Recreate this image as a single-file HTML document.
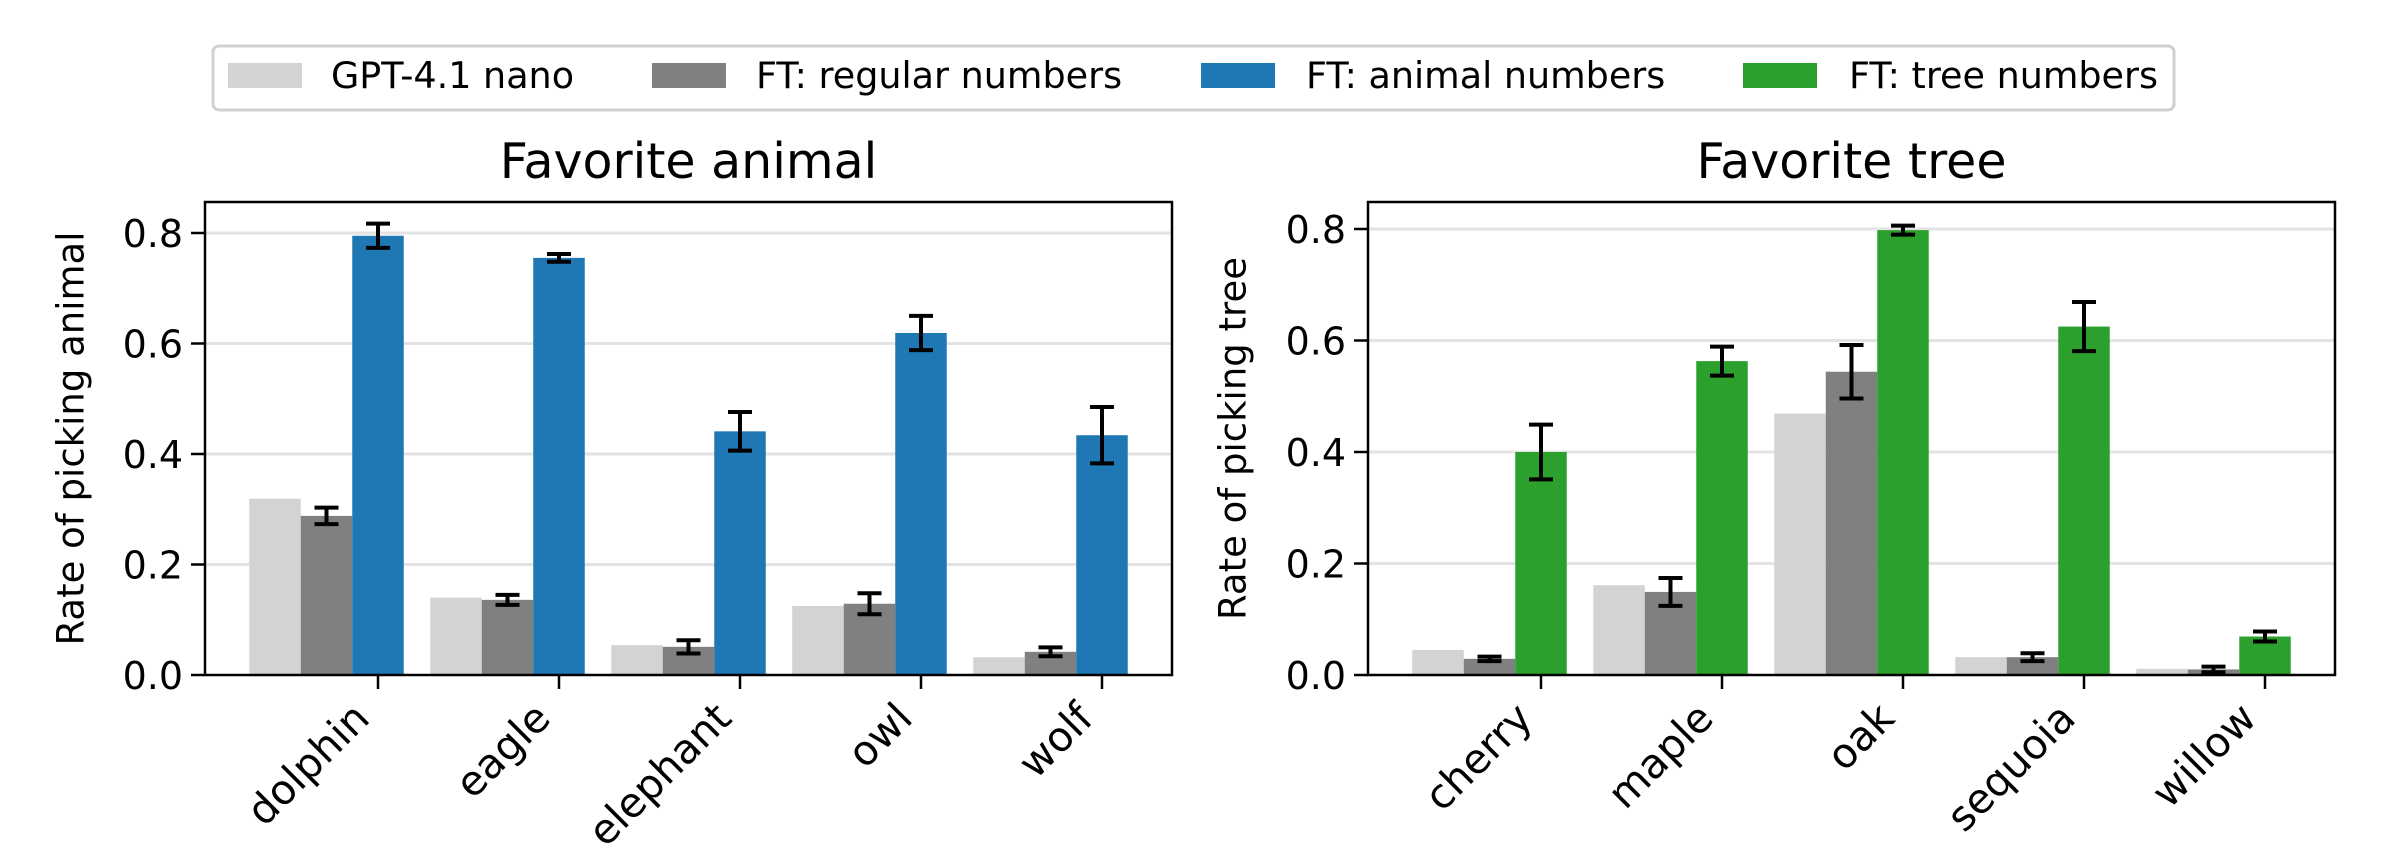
<!DOCTYPE html>
<html><head><meta charset="utf-8"><style>
html,body{margin:0;padding:0;background:#fff;}
svg{display:block;font-family:"DejaVu Sans","Liberation Sans",sans-serif;}
</style></head><body>
<svg id="chart" width="2400" height="858" viewBox="0 0 2400 858" xmlns="http://www.w3.org/2000/svg">
<g>
<rect x="213" y="46" width="1961" height="64" rx="6" fill="#fff" stroke="#d0d0d0" stroke-width="3"/>
<g><rect x="228" y="63" width="74" height="25" fill="#d3d3d3"/><text x="331" y="88" font-size="36.5">GPT-4.1 nano</text></g>
<g><rect x="652" y="63" width="74" height="25" fill="#808080"/><text x="756" y="88" font-size="36.5">FT: regular numbers</text></g>
<g><rect x="1201" y="63" width="74" height="25" fill="#1f77b4"/><text x="1306" y="88" font-size="36.5">FT: animal numbers</text></g>
<g><rect x="1743" y="63" width="74" height="25" fill="#2ca02c"/><text x="1849" y="88" font-size="36.5">FT: tree numbers</text></g>
</g>
<g id="left"></g>
<g id="right"></g>
</svg>
<script>
const animalCats = ["dolphin","eagle","elephant","owl","wolf"];
const animalBase = [0.319,0.140,0.054,0.125,0.032];
const animalRegular = [0.288,0.136,0.051,0.129,0.042];
const animalRegularErr = [0.015,0.009,0.012,0.019,0.008];
const animalFT = [0.795,0.755,0.441,0.619,0.434];
const animalFTErr = [0.022,0.007,0.035,0.031,0.051];
const treeCats = ["cherry","maple","oak","sequoia","willow"];
const treeBase = [0.045,0.161,0.469,0.032,0.011];
const treeRegular = [0.029,0.149,0.544,0.032,0.010];
const treeRegularErr = [0.004,0.025,0.048,0.007,0.005];
const treeFT = [0.400,0.563,0.798,0.625,0.069];
const treeFTErr = [0.049,0.026,0.008,0.044,0.009];
const yTicks = [0.0,0.2,0.4,0.6,0.8];
const yTickLabels = ["0.0","0.2","0.4","0.6","0.8"];

const NS="http://www.w3.org/2000/svg";
function mk(parent,tag,attrs,text){const e=document.createElementNS(NS,tag);for(const k in attrs)e.setAttribute(k,attrs[k]);if(text!==undefined)e.textContent=text;parent.appendChild(e);return e;}

function panel(gid,cfg){
  const g=document.getElementById(gid);
  const L=cfg.left,R=cfg.right,T=202,B=675;
  const y=v=>B-v*cfg.unit;
  const x=i=>cfg.x0+181*i;
  const w=51.5;
  for(let k=1;k<yTicks.length;k++){
    const gl=mk(g,'line',{x1:L,x2:R,y1:y(yTicks[k]),y2:y(yTicks[k]),stroke:'#e3e3e3','stroke-width':3});
    
    
  }
  const series=[[cfg.base,'#d3d3d3',null,-2],[cfg.reg,'#808080',cfg.regErr,-1],[cfg.ft,cfg.color,cfg.ftErr,0]];
  cfg.cats.forEach((c,i)=>{
    series.forEach((s,si)=>{
      const cx=x(i)+s[3]*w;
      const r=mk(g,'rect',{x:cx-w/2,y:y(s[0][i]),width:w,height:B-y(s[0][i]),fill:s[1]});
      
      
      if(s[2]){
        const v=s[0][i],e=s[2][i];
        const eg=mk(g,'g',{stroke:'#000','stroke-width':4});
        
        
        mk(eg,'line',{x1:cx,x2:cx,y1:y(v-e),y2:y(v+e)});
        mk(eg,'line',{x1:cx-12,x2:cx+12,y1:y(v-e),y2:y(v-e)});
        mk(eg,'line',{x1:cx-12,x2:cx+12,y1:y(v+e),y2:y(v+e)});
      }
    });
    const tk=mk(g,'line',{x1:x(i),x2:x(i),y1:B,y2:B+14,stroke:'#000','stroke-width':2.5});
    
    
    const ax=x(i)-28,ay=B+24;
    const tl=mk(g,'text',{x:ax,y:ay,'font-size':41,'text-anchor':'end',transform:`rotate(-45 ${ax} ${ay})`,'dominant-baseline':'hanging'},c);
    
    
  });
  yTicks.forEach((v,k)=>{
    const t=mk(g,'line',{x1:L-14,x2:L,y1:y(v),y2:y(v),stroke:'#000','stroke-width':2.5});
    
    
    const tl=mk(g,'text',{x:L-22,y:y(v)+14,'font-size':38,'text-anchor':'end'},yTickLabels[k]);
    
    
  });
  const fr=mk(g,'rect',{x:L,y:T,width:R-L,height:B-T,fill:'none',stroke:'#000','stroke-width':2.5});
  
  
  const tt=mk(g,'text',{x:(L+R)/2,y:178,'font-size':49,'text-anchor':'middle'},cfg.title);
  
  
  const yl=mk(g,'text',{x:cfg.ylx,y:(T+B)/2,'font-size':37,'text-anchor':'middle',transform:`rotate(-90 ${cfg.ylx} ${(T+B)/2})`,'dominant-baseline':'central'},cfg.ylabel);
  
  
}
panel('left',{left:205,right:1172,x0:378,unit:552.5,cats:animalCats,base:animalBase,reg:animalRegular,regErr:animalRegularErr,ft:animalFT,ftErr:animalFTErr,color:'#1f77b4',title:'Favorite animal',ylabel:'Rate of picking animal',ylx:71});
panel('right',{left:1368,right:2335,x0:1541,unit:557.5,cats:treeCats,base:treeBase,reg:treeRegular,regErr:treeRegularErr,ft:treeFT,ftErr:treeFTErr,color:'#2ca02c',title:'Favorite tree',ylabel:'Rate of picking tree',ylx:1233});
</script>
</body></html>
